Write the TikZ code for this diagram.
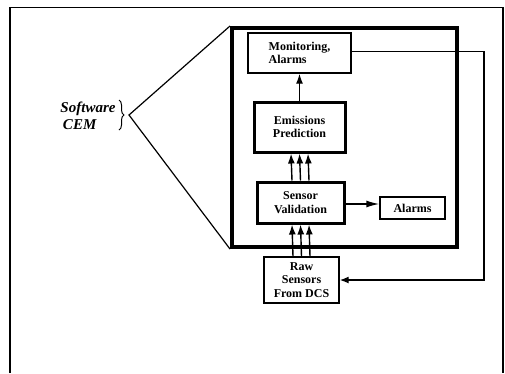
\documentclass[tikz,border=0pt]{standalone}
\usepackage{fontspec}
\setmainfont{Liberation Serif}
\usetikzlibrary{positioning,arrows.meta,decorations.pathreplacing}

\begin{document}
\begin{tikzpicture}[x=1pt,y=1pt,
blk/.style={rectangle,draw,line width=1.4pt,inner sep=1pt,align=center,font=\bfseries\fontsize{12}{13.5}\selectfont},
tblk/.style={blk,line width=3pt},
frm/.style={rectangle,draw,line width=4pt,inner sep=0pt},
arr/.style={-{Latex[length=10pt,width=7pt]},line width=1.4pt},
cemtxt/.style={align=left,font=\bfseries\itshape\fontsize{15}{17}\selectfont}
]
\useasboundingbox (0,0) rectangle (505,-373);
\draw[line width=1.2pt] (10,-373) -- (10,-7.5) -- (503,-7.5) -- (503,-373);

\node[frm,minimum width=225,minimum height=219] (cemfrm) at (344.5,-137.5) {};
\node[blk,minimum width=103,minimum height=40,align=left] (mon) at (299.5,-53) {Monitoring,\\Alarms};
\node[tblk,minimum width=91,minimum height=50] (emis) at (299.5,-127) {Emissions\\Prediction};
\node[tblk,minimum width=87,minimum height=41] (val) at (300.5,-202.5) {Sensor\\Validation};
\node[blk,minimum width=65,minimum height=22] (alm) at (412.5,-208) {Alarms};
\node[blk,minimum width=75,minimum height=46] (raw) at (301.5,-280) {Raw\\Sensors\\From DCS};

\node[cemtxt] (cem) at (88,-116) {Software\\\,CEM};
\draw[line width=1pt,decorate,decoration={brace,amplitude=5pt}] (119,-100) -- (119,-130);
\coordinate (tip) at (129,-115);
\draw[line width=1.2pt] (cemfrm.north west) -- (tip) -- (cemfrm.south west);

\draw[arr] (emis) -- (mon);
\foreach \dx in {-8.5,0,8.5} {
  \draw[arr] ([xshift=\dx]val.north) -- ([xshift=\dx]emis.south);
  \draw[arr] ([xshift=\dx]raw.north) -- ([xshift=\dx]val.south);
}
\draw[arr,-{Latex[length=13pt,width=7pt]}] (val.east |- 0,-204) -- (alm.west |- 0,-204);

\coordinate (fbk) at (484,-51.5);
\draw[arr,-{Latex[length=9pt,width=7pt]}] (mon.east |- fbk) -- (fbk) |- (raw.east);
\end{tikzpicture}
\end{document}
